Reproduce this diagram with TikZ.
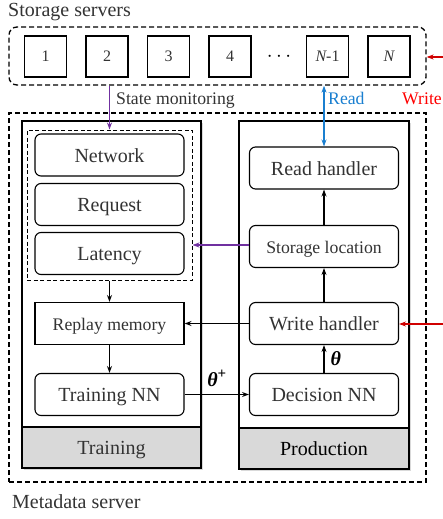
\documentclass[tikz,border=0pt]{standalone}
\usepackage{fontspec}
\setmainfont{Liberation Serif}
\usetikzlibrary{arrows.meta,shadows}
\definecolor{ink}{HTML}{333333}
\definecolor{footgray}{HTML}{D9D9D9}
\definecolor{monpurple}{HTML}{7030A0}
\definecolor{readblue}{HTML}{1A7FD0}
\definecolor{writered}{HTML}{FF0000}
\definecolor{writearrow}{HTML}{D00000}
\newcommand\pxsize[1]{\fontsize{#1}{#1}\selectfont}
\begin{document}
\begin{tikzpicture}[x=1pt,y=-1pt,
  srv/.style={draw, line width=1.6pt, minimum width=42pt, minimum height=41pt,
    inner sep=0pt, font=\pxsize{16}, text=ink},
  group/.style={draw, line width=1.3pt, dash pattern=on 5pt off 3pt, inner sep=0pt},
  panel/.style={draw, line width=1.7pt, fill=white, inner sep=0pt,
    drop shadow={opacity=0.3, shadow xshift=2pt, shadow yshift=-2pt}},
  footer/.style={draw, line width=1.7pt, fill=footgray, inner sep=0pt,
    font=\pxsize{20}, text height=15pt, text depth=1pt},
  blk/.style={draw, line width=1.1pt, rounded corners=6pt, minimum width=149pt,
    minimum height=42pt, inner sep=0pt, font=\pxsize{20}, text=ink,
    text height=15pt, text depth=1pt},
  sblk/.style={blk, font=\pxsize{17.7}},
  arr/.style={line width=1.1pt, -{Stealth[length=7pt,width=5pt]}},
  lbl/.style={inner sep=0pt, anchor=base west},
]
\useasboundingbox (0,0) rectangle (443,519);

% storage servers
\node[group, rounded corners=8pt, minimum width=417pt, minimum height=58pt] (servers) at (217.5,56) {};
\node[srv] (s1) at (45.5,56.5) {1};
\node[srv] (s2) at (107,56.5) {2};
\node[srv] (s3) at (168.5,56.5) {3};
\node[srv] (s4) at (230,56.5) {4};
\node[inner sep=0pt, font=\pxsize{20}] (sdots) at (279,57) {$\cdots$};
\node[srv] (sn1) at (327.5,56.5) {{\itshape N}-1};
\node[srv] (sn) at (389,56.5) {\itshape N};
\node[lbl, font=\pxsize{20}, text=ink] (stitle) at (8,17) {Storage servers};

% metadata server
\node[group, minimum width=417pt, minimum height=369pt] (meta) at (217.5,297.5) {};
\node[lbl, font=\pxsize{20}, text=ink] (mtitle) at (12,508) {Metadata server};

% training side
\node[panel, minimum width=179pt, minimum height=347pt] (trainpanel) at (111.5,294.5) {};
\node[footer, minimum width=179pt, minimum height=41pt, text=ink] (trainfoot) at (111.5,447.5) {Training};
\node[draw, line width=1pt, dash pattern=on 4pt off 2.5pt, minimum width=165pt,
  minimum height=150pt, inner sep=0pt] (state) at (109.5,205) {};
\node[blk] (network) at (109.5,155) {Network};
\node[blk] (request) at (109.5,204.5) {Request};
\node[blk] (latency) at (109.5,253.5) {Latency};
\node[sblk, rounded corners=0pt] (replay) at (109.5,323.5) {Replay memory};
\node[blk] (trainnn) at (109.5,394.5) {Training NN};

% production side
\node[panel, minimum width=170pt, minimum height=348pt] (prodpanel) at (324,295) {};
\node[footer, minimum width=170pt, minimum height=41pt, text=black] (prodfoot) at (324,448.5) {Production};
\node[blk] (read) at (324,168) {Read handler};
\node[sblk] (storloc) at (324,246.5) {Storage location};
\node[blk] (write) at (324,323.5) {Write handler};
\node[blk] (decision) at (324,394.5) {Decision NN};

% flows inside the metadata server
\draw[arr] (state.south) -- (replay.north);
\draw[arr] (replay) -- (trainnn);
\draw[arr] (write) -- (replay);
\draw[arr] (trainnn) -- node[above=7pt, inner sep=0pt, font=\pxsize{20}]
  {{\bfseries\itshape θ}\raisebox{0.4em}{\bfseries\pxsize{15}+}} (decision);
\draw[arr] (decision) -- node[right=6pt, inner sep=0pt, font=\pxsize{20}]
  {\bfseries\itshape θ} (write);
\draw[arr] (write) -- (storloc);
\draw[arr] (storloc) -- (read);
\draw[arr, monpurple] (storloc.west |- 0,245) -- (state.east |- 0,245);

% links to the storage servers
\draw[arr, monpurple] (state.north |- servers.south) -- (state.north);
\node[lbl, font=\pxsize{17.7}, text=ink] (monlbl) at (116,104) {State monitoring};
\draw[line width=1.1pt, readblue, {Stealth[length=7pt,width=5pt]}-{Stealth[length=7pt,width=5pt]}]
  (read.north |- servers.south) -- (read.north);
\node[lbl, font=\pxsize{17.7}, text=readblue] (readlbl) at (328,104) {Read};
\coordinate (wtop) at (443,57);
\coordinate (wbot) at (443,324);
\draw[arr, writearrow] (wtop) -- (servers.east |- wtop);
\draw[arr, writearrow] (wbot) -- (write.east |- wbot);
\node[lbl, font=\pxsize{17.7}, text=writered] (writelbl) at (402,104) {Write};
\end{tikzpicture}
\end{document}
